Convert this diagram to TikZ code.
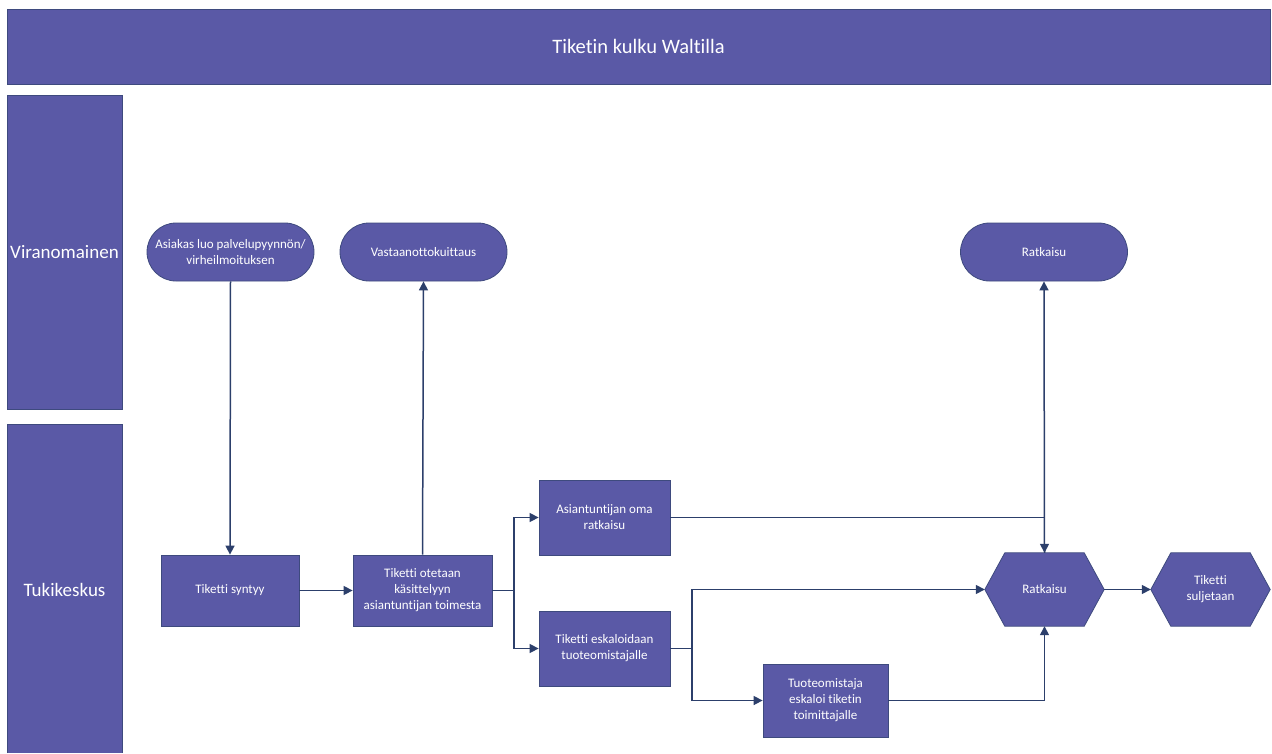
\documentclass[tikz,border=0pt]{standalone}
\usepackage{fontspec}
\setmainfont[Ligatures=NoCommon]{Carlito}
\usetikzlibrary{shapes.misc,arrows.meta}
\definecolor{boxfill}{HTML}{5A59A6}
\definecolor{boxline}{HTML}{3E4A7E}
\definecolor{conn}{HTML}{2C3F6B}
\tikzset{
  base/.style={fill=boxfill,draw=boxline,line width=0.8pt,text=white,align=center,font=\fontsize{13}{16}\selectfont,inner sep=2pt},
  stepbox/.style={base,rectangle,minimum width=138pt,minimum height=71pt},
  pill/.style={base,rounded rectangle,minimum width=171pt,minimum height=58pt},
  hexnode/.style={rectangle,draw=none,minimum width=119pt,minimum height=73pt,inner sep=0pt,text=white,align=center,font=\fontsize{13}{16}\selectfont},
  hexshape/.style={fill=boxfill,draw=boxline,line width=0.8pt},
  lane/.style={base,rectangle,font=\fontsize{19}{22}\selectfont,inner sep=0pt},
  conn/.style={draw=conn,line width=1.5pt},
  arr/.style={conn,-{Triangle[length=9pt,width=9pt]}}
}
\begin{document}
\begin{tikzpicture}[x=1pt,y=-1pt]
\useasboundingbox (0,0) rectangle (1272,753);
% title and lanes
\node[lane,minimum width=1263pt,minimum height=75pt,font=\fontsize{20.5}{24}\selectfont] (title) at (638.5,46.5) {Tiketin kulku Waltilla};
\node[lane,minimum width=115pt,minimum height=314pt] (lane1) at (64.5,252) {Viranomainen};
\fill[boxfill] (7,424) rectangle (122,753);
\draw[boxline,line width=0.8pt] (7,753) -- (7,424) -- (122,424) -- (122,753);
\node[text=white,font=\fontsize{19}{22}\selectfont] (lane2) at (64.5,590) {Tukikeskus};
% nodes
\node[pill] (asiakas) at (230.5,252) {Asiakas luo palvelupyynnön/\\virheilmoituksen};
\node[pill] (vast) at (423.5,252) {Vastaanottokuittaus};
\node[pill] (ratk1) at (1044,252) {Ratkaisu};
\node[stepbox] (syntyy) at (230,590.5) {Tiketti syntyy};
\node[stepbox,minimum width=139pt] (otetaan) at (422.5,590.5) {Tiketti otetaan\\käsittelyyn\\asiantuntijan toimesta};
\node[stepbox,minimum width=131pt,minimum height=75pt] (oma) at (604.5,517.5) {Asiantuntijan oma\\ratkaisu};
\node[stepbox,minimum width=131pt,minimum height=75pt] (esk) at (604.5,648.5) {Tiketti eskaloidaan\\tuoteomistajalle};
\node[stepbox,minimum width=125pt,minimum height=73pt] (tuote) at (825.5,700.5) {Tuoteomistaja\\eskaloi tiketin\\toimittajalle};
\node[hexnode] (ratk2) at (1044.5,589.5) {};
\draw[hexshape] (ratk2.west) -- ([xshift=20pt]ratk2.north west) -- ([xshift=-20pt]ratk2.north east) -- (ratk2.east) -- ([xshift=-20pt]ratk2.south east) -- ([xshift=20pt]ratk2.south west) -- cycle;
\node[hexnode] at (ratk2) {Ratkaisu};
\node[hexnode] (sulj) at (1210.5,589.5) {};
\draw[hexshape] (sulj.west) -- ([xshift=20pt]sulj.north west) -- ([xshift=-20pt]sulj.north east) -- (sulj.east) -- ([xshift=-20pt]sulj.south east) -- ([xshift=20pt]sulj.south west) -- cycle;
\node[hexnode] at (sulj) {Tiketti\\suljetaan};
% junction coordinates
\coordinate (j1) at (514,590.5);
\coordinate (j2) at (692,648.5);
% connectors
\draw[arr] (asiakas.south) -- (syntyy.north);
\draw[arr] (syntyy.east) -- (otetaan.west);
\draw[arr] (otetaan.north) -- (vast.south);
\draw[conn] (otetaan.east) -- (j1);
\draw[arr] (j1) |- (oma.west);
\draw[arr] (j1) |- (esk.west);
\draw[arr] (oma.east) -| (ratk2.north);
\draw[arr] (ratk2.north) -- (ratk1.south);
\draw[conn] (esk.east) -- (j2);
\draw[arr] (j2) |- (ratk2.west);
\draw[arr] (j2) |- (tuote.west);
\draw[arr] (tuote.east) -| (ratk2.south);
\draw[arr] (ratk2.east) -- (sulj.west);
\end{tikzpicture}
\end{document}
